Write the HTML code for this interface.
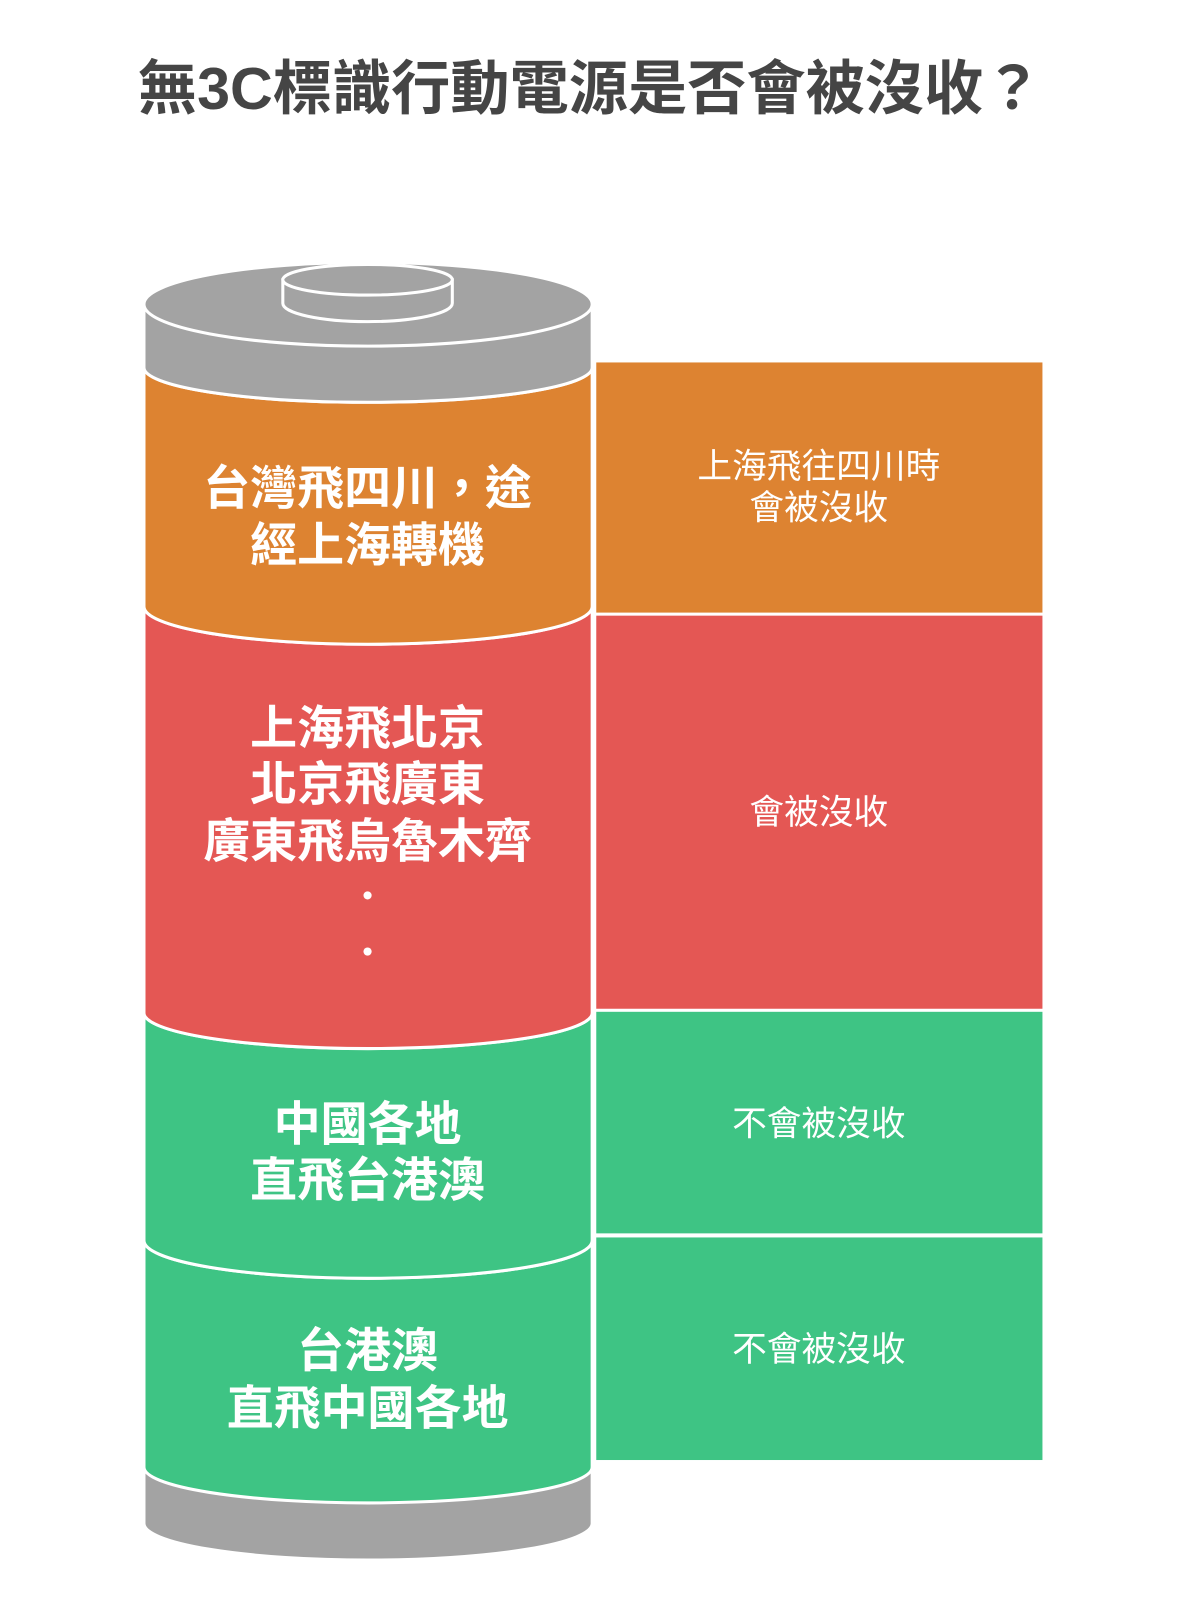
<!DOCTYPE html>
<html><head><meta charset="utf-8"><style>
body{margin:0;background:#fff;}
text{font-family:"Liberation Sans","Noto Sans CJK TC",sans-serif;}
</style></head><body>
<svg width="1187" height="1600" viewBox="0 0 1187 1600" xmlns="http://www.w3.org/2000/svg">
<g transform="scale(1.021)">
<text x="578" y="107" text-anchor="middle" font-size="58" font-weight="bold" fill="#454545">無3C標識行動電源是否會被沒收？</text>
<g stroke="#fff" stroke-width="3">
<path d="M141,1437 L141,1492 A219.5 36 0 0 0 580,1492 L580,1437 Z" fill="#A3A3A3"/>
<path d="M141,1215 A219.5 37 0 0 0 580,1215 L580,1437 A219.5 35 0 0 1 141,1437 Z" fill="#3EC484"/>
<path d="M141,992 A219.5 35 0 0 0 580,992 L580,1215 A219.5 37 0 0 1 141,1215 Z" fill="#3EC484"/>
<path d="M141,594 A219.5 37 0 0 0 580,594 L580,992 A219.5 35 0 0 1 141,992 Z" fill="#E45754"/>
<path d="M141,360 A219.5 34 0 0 0 580,360 L580,594 A219.5 37 0 0 1 141,594 Z" fill="#DD8331"/>
<path d="M141,298 L141,360 A219.5 34 0 0 0 580,360 L580,298 Z" fill="#A3A3A3"/>
<ellipse cx="360.5" cy="298" rx="219.5" ry="41" fill="#A3A3A3"/>
<path d="M277,274 L277,297 A83 18 0 0 0 443,297 L443,274 Z" fill="#A3A3A3"/>
<ellipse cx="360" cy="274" rx="83" ry="15" fill="#A3A3A3"/>
</g>
<rect x="584" y="355" width="437" height="245" fill="#DD8331"/>
<rect x="584" y="603" width="437" height="385" fill="#E45754"/>
<rect x="584" y="991" width="437" height="217" fill="#3EC484"/>
<rect x="584" y="1212" width="437" height="218" fill="#3EC484"/>
<g fill="#fff" font-size="46" font-weight="bold" text-anchor="middle">
<text x="360" y="494">台灣飛四川，途</text>
<text x="360" y="550">經上海轉機</text>
<text x="360" y="729">上海飛北京</text>
<text x="360" y="784">北京飛廣東</text>
<text x="360" y="840">廣東飛烏魯木齊</text>
<circle cx="360" cy="877" r="4"/>
<circle cx="360" cy="932" r="4"/>
<text x="360" y="1117">中國各地</text>
<text x="360" y="1172">直飛台港澳</text>
<text x="360" y="1339">台港澳</text>
<text x="360" y="1395">直飛中國各地</text>
</g>
<g fill="#fff" font-size="34" text-anchor="middle">
<text x="802" y="468">上海飛往四川時</text>
<text x="802" y="509">會被沒收</text>
<text x="802" y="807">會被沒收</text>
<text x="802" y="1112">不會被沒收</text>
<text x="802" y="1333">不會被沒收</text>
</g>
</g>
</svg>
</body></html>
